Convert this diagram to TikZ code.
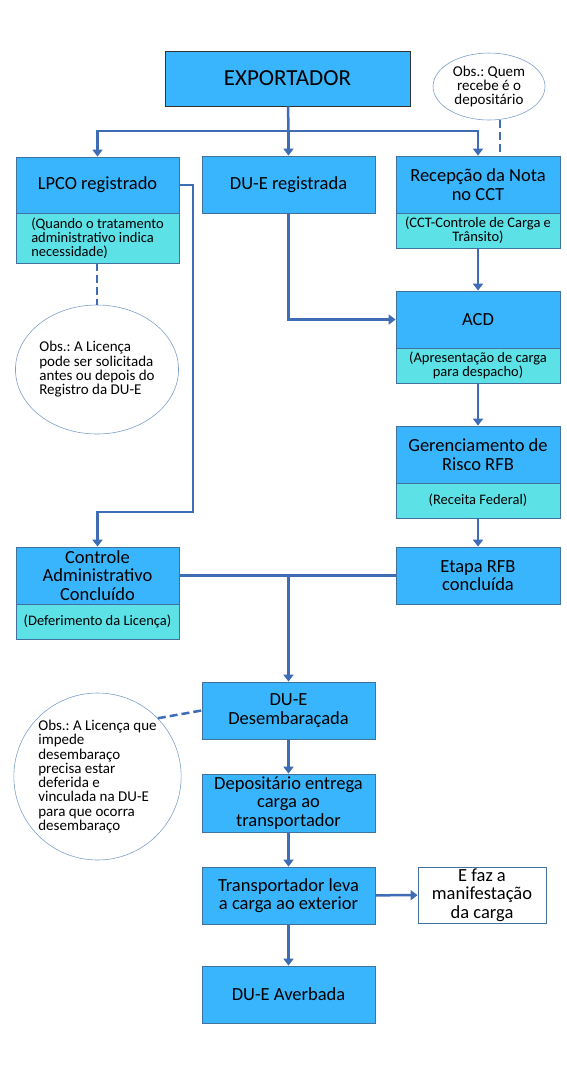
\documentclass[tikz,border=0pt]{standalone}
\usepackage{fontspec}
\setmainfont{Carlito}
\usetikzlibrary{arrows.meta,shapes.geometric}
\definecolor{boxblue}{HTML}{39B5FE}
\definecolor{obscyan}{HTML}{5CE1E6}
\definecolor{edgeblue}{HTML}{41719C}
\definecolor{linkblue}{HTML}{3F6DB5}
\definecolor{notering}{HTML}{7F9FCC}
\frenchspacing

\begin{document}
\begin{tikzpicture}[x=1pt,y=-1pt]
\tikzstyle{box}=[rectangle,draw=edgeblue,line width=0.8pt,fill=boxblue,inner sep=0pt,align=center,font=\fontsize{18.5}{18.3}\selectfont]
\tikzstyle{obsbox}=[box,fill=obscyan,font=\fontsize{14.5}{14.3}\selectfont]
\tikzstyle{note}=[ellipse,draw=notering,line width=0.6pt,fill=white,inner sep=0pt,font=\fontsize{15}{14.3}\selectfont]
\tikzstyle{plain}=[draw=linkblue,line width=2.5pt]
\tikzstyle{link}=[plain,-{Triangle[width=10pt,length=7pt]}]
\tikzstyle{dashlink}=[plain,dash pattern=on 8pt off 4pt]
\useasboundingbox (0,0) rectangle (567,1080);

% top row
\node [box,minimum width=245pt,minimum height=55pt,draw=black!80,font=\fontsize{23}{24}\selectfont] (exp) at (287.5,78.5) {EXPORTADOR};
\node [note,minimum width=112pt,minimum height=67pt,align=center] (quem) at (489,86.5) {Obs.: Quem\\recebe é o\\depositário};
\node [box,minimum width=163pt,minimum height=56pt] (lpco) at (97.5,185) {LPCO registrado};
\node [obsbox,minimum width=163pt,minimum height=50pt,align=left] (lpcoobs) at (97.5,238) {(Quando o tratamento\\administrativo indica\\necessidade)};
\node [box,minimum width=173pt,minimum height=57pt] (duer) at (288.5,184.5) {DU-E registrada};
\node [box,minimum width=164pt,minimum height=57pt] (rec) at (478,184.5) {Recepção da Nota\\no CCT};
\node [obsbox,minimum width=164pt,minimum height=35pt] (recobs) at (478,230.5) {(CCT-Controle de Carga e\\Trânsito)};
\node [note,minimum width=138pt,minimum height=129pt,align=left] (licA) at (97,369.5) {Obs.: A Licença\\pode ser solicitada\\antes ou depois do\\Registro da DU-E};

% right column
\node [box,minimum width=164pt,minimum height=57pt] (acd) at (478,319.5) {ACD};
\node [obsbox,minimum width=164pt,minimum height=35pt] (acdobs) at (478,365.5) {(Apresentação de carga\\para despacho)};
\node [box,minimum width=164pt,minimum height=57pt] (ger) at (478,454.5) {Gerenciamento de\\Risco RFB};
\node [obsbox,minimum width=164pt,minimum height=35pt] (gerobs) at (478,500.5) {(Receita Federal)};
\node [box,minimum width=164pt,minimum height=57pt] (etapa) at (478,575.5) {Etapa RFB\\concluída};
\node [box,minimum width=163pt,minimum height=57pt] (ctrl) at (97.5,575.5) {Controle\\Administrativo\\Concluído};
\node [obsbox,minimum width=163pt,minimum height=35pt] (ctrlobs) at (97.5,621.5) {(Deferimento da Licença)};

% bottom column
\node [box,minimum width=173pt,minimum height=57pt] (desemb) at (288.5,710.5) {DU-E\\Desembaraçada};
\node [note,minimum width=165pt,minimum height=167pt,align=left] (licB) at (97.5,776.5) {Obs.: A Licença que\\impede\\desembaraço\\precisa estar\\deferida e\\vinculada na DU-E\\para que ocorra\\desembaraço};
\node [box,minimum width=173pt,minimum height=58pt] (dep) at (288.5,803) {Depositário entrega\\carga ao\\transportador};
\node [box,minimum width=173pt,minimum height=57pt] (transp) at (288.5,895.5) {Transportador leva\\a carga ao exterior};
\node [box,minimum width=128pt,minimum height=56pt,fill=white] (efaz) at (482,895) {E faz a\\manifestação\\da carga};
\node [box,minimum width=173pt,minimum height=57pt] (averb) at (288.5,994.5) {DU-E Averbada};

\coordinate (split) at (288.5,131);
\coordinate (lpcobend) at (193,512);

\draw [plain] (exp) -- (split);
\draw [link] (split) -| (lpco);
\draw [link] (split) -- (duer);
\draw [link] (split) -| (rec);
\draw [dashlink] (quem.-72) -- (quem.-72 |- rec.north);
\draw [dashlink] (lpcoobs.south -| licA.north) -- (licA.north);
\draw [link] (lpco.east) -| (lpcobend) -| (ctrl.north);
\draw [link] (duer) |- (acd.west);
\draw [link] (recobs) -- (acd);
\draw [link] (acdobs) -- (ger);
\draw [link] (gerobs) -- (etapa);
\draw [plain] (ctrl.east) -- (etapa.west);
\draw [link] (ctrl.east -| desemb.north) -- (desemb.north);
\draw [dashlink] (licB.44) -- (desemb.west);
\draw [link] (desemb) -- (dep);
\draw [link] (dep) -- (transp);
\draw [link] (transp) -- (averb);
\draw [link] (transp) -- (efaz);
\end{tikzpicture}
\end{document}
